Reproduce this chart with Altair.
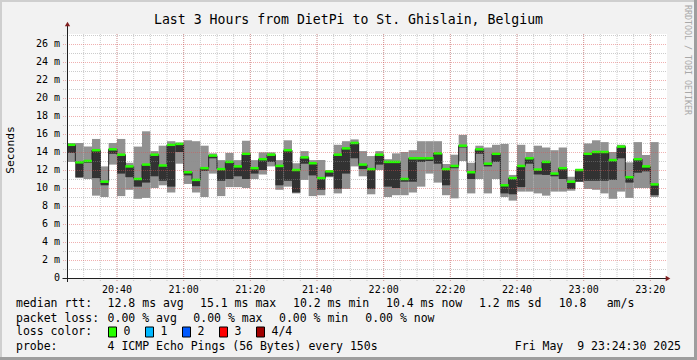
import altair as alt
import pandas as pd

FONT = "DejaVu Sans Mono"

title_text = "Last 3 Hours from DietPi to St. Ghislain, Belgium"
y_axis_title = "Seconds"
watermark_text = "RRDTOOL / TOBI OETIKER"

graph_day = "2025-05-09"
first_step = "2025-05-09 20:25:00"
step_seconds = 150

# 4 pings per step (ms): max, median (3rd ping), 2nd ping, min
ping_max = [15.0, 15.0, 14.6, 15.45, 12.4, 15.0, 15.45, 12.8, 14.6, 16.3,
            14.1, 14.7, 15.2, 15.05, 15.3, 15.2, 14.7, 13.85, 13.1, 13.9,
            13.1, 15.25, 13.1, 13.96, 13.96, 13.1, 15.3, 12.75, 14.1, 13.1,
            13.1, 11.9, 14.8, 15.2, 15.4, 14.1, 13.55, 14.1, 13.2, 13.85,
            14.0, 14.2, 15.2, 15.2, 15.2, 12.67, 13.7, 15.9, 12.8, 14.7,
            14.5, 14.8, 14.9, 11.45, 14.8, 14.0, 14.7, 14.5, 14.2, 14.5,
            11.25, 12.1, 14.95, 15.3, 15.1, 14.0, 14.8, 12.85, 15.1, 13.67,
            15.1]
ping_median = [14.8, 12.85, 13.0, 14.2, 10.7, 14.3, 13.7, 12.4, 11.0, 12.6,
               13.7, 12.5, 14.8, 14.9, 11.75, 10.9, 12.2, 13.6, 12.1, 12.9,
               12.4, 13.8, 12.2, 13.2, 13.7, 12.45, 14.2, 12.0, 13.4, 12.75,
               11.1, 11.85, 13.7, 14.4, 15.0, 12.6, 12.1, 13.7, 12.9, 12.9,
               11.0, 13.3, 13.3, 13.3, 13.85, 12.1, 12.45, 14.7, 11.75, 14.3,
               12.7, 13.8, 10.3, 11.1, 12.45, 13.3, 12.05, 12.9, 11.6, 12.2,
               10.7, 12.0, 13.8, 14.0, 14.0, 13.1, 14.6, 11.2, 13.2, 12.4,
               10.4]
ping_second = [13.9, 11.2, 12.8, 11.1, 10.3, 13.8, 11.6, 11.2, 10.15, 10.6,
               11.3, 10.8, 10.15, 14.0, 11.4, 10.2, 11.9, 13.3, 10.8, 11.0,
               11.3, 11.0, 11.6, 12.0, 12.9, 10.3, 10.8, 9.5, 12.7, 11.4,
               9.8, 11.3, 9.9, 11.6, 13.3, 12.1, 9.9, 12.6, 10.15, 10.0,
               10.7, 10.7, 12.9, 13.0, 12.7, 10.3, 12.2, 14.5, 11.0, 13.8,
               12.4, 12.9, 9.4, 9.3, 10.1, 12.7, 11.5, 11.45, 11.3, 11.0,
               9.9, 10.7, 10.8, 10.8, 10.8, 10.9, 13.3, 10.6, 11.7, 11.85,
               9.2]
ping_min = [12.9, 11.1, 11.0, 9.15, 9.0, 12.6, 9.1, 9.8, 8.8, 8.9,
            10.0, 10.3, 9.5, 12.7, 10.45, 9.5, 9.0, 11.6, 9.1, 10.1,
            10.1, 10.0, 11.0, 11.5, 12.4, 9.8, 10.15, 9.4, 10.9, 9.1,
            9.2, 11.2, 9.4, 9.9, 12.4, 11.3, 9.3, 12.0, 9.0, 9.2,
            9.2, 9.5, 10.15, 11.6, 10.6, 9.2, 8.85, 13.0, 9.4, 11.0,
            9.4, 11.0, 9.0, 8.6, 9.6, 9.6, 9.4, 9.15, 9.6, 9.6,
            9.7, 10.7, 9.9, 9.8, 9.4, 8.8, 9.6, 8.9, 10.0, 10.0,
            9.0]

x_tick_labels = ["20:40", "21:00", "21:20", "21:40", "22:00",
                 "22:20", "22:40", "23:00", "23:20"]
y_tick_values = [0, 2, 4, 6, 8, 10, 12, 14, 16, 18, 20, 22, 24, 26]
y_tick_labels = ["0", "2 m", "4 m", "6 m", "8 m", "10 m", "12 m", "14 m",
                 "16 m", "18 m", "20 m", "22 m", "24 m", "26 m"]
y_minor_values = [1, 3, 5, 7, 9, 11, 13, 15, 17, 19, 21, 23, 25, 27]

row1 = ["median rtt:", "12.8 ms avg", "15.1 ms max", "10.2 ms min",
        "10.4 ms now", "1.2 ms sd", "10.8", "am/s"]
row2 = ["packet loss:", "0.00 % avg", "0.00 % max", "0.00 % min", "0.00 % now"]
row3_label = "loss color:"
loss_labels = ["0", "1", "2", "3", "4/4"]
loss_colors = ["#26ff00", "#00b8ff", "#0059ff", "#ff0000", "#a00000"]
row4 = ["probe:", "4 ICMP Echo Pings (56 Bytes) every 150s"]
date_text = "Fri May  9 23:24:30 2025"

# ---------------------------------------------------------------
PL, PT, W, H = 67, 34, 600, 244
NB = "\u00a0"
GRID = "#8f8f8f"
MGRID = "#de4f4f"


def dt(hm):
    h, m = map(int, hm.split(":"))
    return alt.DateTime(year=2025, month=5, date=9, hours=h, minutes=m)


n = len(ping_median)
t0 = pd.date_range(first_step, periods=n, freq=f"{step_seconds}s")
t1 = t0 + pd.Timedelta(seconds=step_seconds)
steps = pd.DataFrame({"t0": t0, "t1": t1, "p1": ping_min, "p2": ping_second,
                      "p3": ping_median, "p4": ping_max})
line_df = pd.DataFrame({"t": list(t0) + [t1[-1]],
                        "m": ping_median + [ping_median[-1]]})

xs = alt.Scale(domain=[dt("20:25"), dt("23:25")])
ys = alt.Scale(domain=[0, H / 9.0], nice=False, zero=True)
X = lambda f: alt.X(f, scale=xs, axis=None)
Y = lambda f: alt.Y(f, scale=ys, axis=None)

minor_t = pd.DataFrame({"t": pd.date_range(f"{graph_day} 20:30", f"{graph_day} 23:20", freq="5min")})
major_t = pd.DataFrame({"t": [pd.Timestamp(f"{graph_day} {s}") for s in x_tick_labels],
                        "lab": x_tick_labels})
minor_y = pd.DataFrame({"v": y_minor_values})
major_y = pd.DataFrame({"v": y_tick_values[1:]})
ylab_df = pd.DataFrame({"v": y_tick_values,
                        "lab": [s if " " in s else s + NB + NB for s in y_tick_labels]})

light = alt.Chart(steps).mark_rect(color="#919191").encode(
    x=X("t0:T"), x2="t1:T", y=Y("p1:Q"), y2="p4:Q")
dark = alt.Chart(steps).mark_rect(color="#323232").encode(
    x=X("t0:T"), x2="t1:T", y=Y("p2:Q"), y2="p3:Q")
med_line = alt.Chart(line_df).mark_line(interpolate="step-after", color="#202020",
                                         strokeWidth=1).encode(x=X("t:T"), y=Y("m:Q"))
green = alt.Chart(steps).mark_rule(color="#26ff00", strokeWidth=2.5).encode(
    x=X("t0:T"), x2="t1:T", y=Y("p3:Q"))

grid_minor_v = alt.Chart(minor_t).mark_rule(
    color=GRID, strokeOpacity=0.45, strokeDash=[1, 1]).encode(
    x=X("t:T"), y=alt.value(0), y2=alt.value(H + 3))
grid_major_v = alt.Chart(major_t).mark_rule(
    color=MGRID, strokeOpacity=0.45, strokeDash=[1, 1]).encode(
    x=X("t:T"), y=alt.value(0), y2=alt.value(H + 3))
grid_minor_h = alt.Chart(minor_y).mark_rule(
    color=GRID, strokeOpacity=0.45, strokeDash=[1, 1], yOffset=0.5).encode(
    y=Y("v:Q"), x=alt.value(-4), x2=alt.value(W))
grid_major_h = alt.Chart(major_y).mark_rule(
    color=MGRID, strokeOpacity=0.45, strokeDash=[1, 1], yOffset=0.5).encode(
    y=Y("v:Q"), x=alt.value(-4), x2=alt.value(W))

x_labels = alt.Chart(major_t).mark_text(
    font=FONT, fontSize=10, color="black", align="center", baseline="middle").encode(
    x=X("t:T"), y=alt.value(290 - PT), text="lab:N")
y_labels = alt.Chart(ylab_df).mark_text(
    font=FONT, fontSize=10, color="black", align="right", baseline="middle").encode(
    y=Y("v:Q"), x=alt.value(60 - PL), text="lab:N")

one = pd.DataFrame({"a": [0]})


def rule(x, y, x2=None, y2=None, color="black", width=1):
    enc = dict(x=alt.value(x - PL), y=alt.value(y - PT))
    if x2 is not None:
        enc["x2"] = alt.value(x2 - PL)
    if y2 is not None:
        enc["y2"] = alt.value(y2 - PT)
    return alt.Chart(one).mark_rule(color=color, strokeWidth=width).encode(**enc)


def text(s, x, y, size=11.5, align="left", color="black", angle=0):
    return alt.Chart(one).mark_text(
        text=s.replace(" ", NB), align=align, baseline="middle", font=FONT,
        fontSize=size, color=color, angle=angle).encode(
        x=alt.value(x - PL), y=alt.value(y - PT))


def arrow(shape, x, y):
    return alt.Chart(one).mark_point(shape=shape, filled=True, size=28, opacity=1,
                                     color="#801f1f").encode(
        x=alt.value(x - PL), y=alt.value(y - PT))


layers = [light, dark, med_line, green, grid_minor_v, grid_minor_h,
          grid_major_v, grid_major_h, x_labels, y_labels,
          rule(62.5, 278.5, x2=666, color="#1f1f1f"),
          rule(67.5, 282, y2=26, color="#1f1f1f"),
          arrow("triangle-right", 668, 278.5), arrow("triangle-up", 67.5, 24),
          # frame shading
          rule(1, 0, y2=358, color="#cfcfcf", width=2),
          rule(0, 1, x2=695, color="#cfcfcf", width=2),
          rule(695.5, 0, y2=360, color="#9e9e9e", width=3),
          rule(0, 358.5, x2=697, color="#9e9e9e", width=3),
          text(title_text, 348.5, 19.5, size=13.2, align="center"),
          text(y_axis_title, 10.5, 150, size=11.3, align="center", angle=270),
          text(watermark_text, 687, 5, size=8.3, color="#a8a8a8", angle=90)]

for s, x in zip(row1, [16, 107.6, 200, 293, 386, 479, 558.7, 606.7]):
    layers.append(text(s, x, 304))
for s, x in zip(row2, [16, 107.6, 193.3, 279, 365.3]):
    layers.append(text(s, x, 318.5))
layers.append(text(row3_label, 16, 332))
for i, (lab, col) in enumerate(zip(loss_labels, loss_colors)):
    bx = 108.5 + 37 * i
    layers.append(alt.Chart(one).mark_rect(fill=col, stroke="black", strokeWidth=1).encode(
        x=alt.value(bx - PL), x2=alt.value(bx + 8 - PL),
        y=alt.value(327 - PT), y2=alt.value(337 - PT)))
    layers.append(text(lab, bx + 15, 332))
layers.append(text(row4[0], 16, 346.5))
layers.append(text(row4[1], 107.6, 346.5))
layers.append(text(date_text, 681, 346.5, align="right"))

chart = alt.layer(*layers).properties(
    width=W, height=H,
    padding={"left": PL, "top": PT, "right": 697 - PL - W, "bottom": 360 - PT - H},
    autosize=alt.AutoSizeParams(type="none"),
    background="#f2f2f2",
).configure_view(fill="white", strokeWidth=0)

chart.save("out.html", embed_options={"renderer": "svg", "actions": False})
